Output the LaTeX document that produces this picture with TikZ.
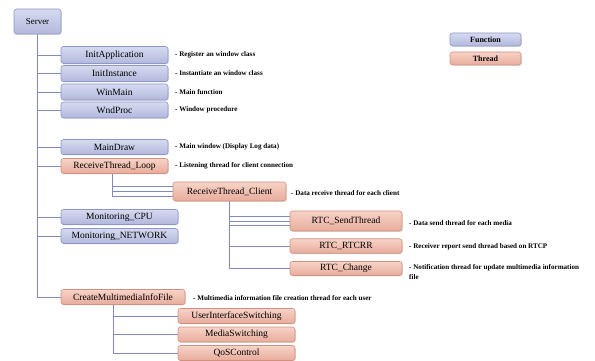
\documentclass[tikz,border=0pt]{standalone}
\usepackage{fontspec}
\setmainfont{Liberation Serif}
\usetikzlibrary{shadows,backgrounds}
\definecolor{funtop}{HTML}{D6DAF0}
\definecolor{funbot}{HTML}{B2B8DC}
\definecolor{fundraw}{HTML}{8E97C6}
\definecolor{thrtop}{HTML}{F7D3C8}
\definecolor{thrbot}{HTML}{E8AC9B}
\definecolor{thrdraw}{HTML}{D2907E}
\definecolor{wire}{HTML}{7E8AC0}
\tikzset{
  box/.style={rounded corners=2.5pt, inner sep=0pt, font=\fontsize{9.5}{10}\selectfont,
    drop shadow={opacity=0.25, shadow xshift=0.8pt, shadow yshift=-0.8pt}, line width=0.6pt},
  fun/.style={box, draw=fundraw, top color=funtop, bottom color=funbot},
  thr/.style={box, draw=thrdraw, top color=thrtop, bottom color=thrbot},
  note/.style={anchor=west, inner sep=0pt, font=\fontsize{7.1}{9.5}\selectfont\bfseries},
  link/.style={draw=wire, line width=0.8pt},
}
\begin{document}
\begin{tikzpicture}[x=1pt, y=-1pt]
\useasboundingbox (0,0) rectangle (595,361);

% legend
\node[fun, minimum width=71pt, minimum height=13pt, font=\fontsize{8}{9}\selectfont\bfseries] (lfun) at (485.5,39.5) {Function};
\node[thr, minimum width=71pt, minimum height=13pt, font=\fontsize{8}{9}\selectfont\bfseries] (lthr) at (485.5,58.5) {Thread};

% tree nodes
\node[fun, minimum width=47pt, minimum height=25pt, font=\fontsize{9}{10}\selectfont] (server) at (37.5,21.5) {Server};
\node[fun, minimum width=107pt, minimum height=17pt] (ia) at (114.5,55) {InitApplication};
\node[fun, minimum width=107pt, minimum height=16pt] (ii) at (114.5,73.5) {InitInstance};
\node[fun, minimum width=107pt, minimum height=16pt] (wm) at (114.5,92) {WinMain};
\node[fun, minimum width=107pt, minimum height=16pt] (wp) at (114.5,110) {WndProc};
\node[fun, minimum width=107pt, minimum height=15pt] (md) at (114.5,147) {MainDraw};
\node[thr, minimum width=107pt, minimum height=15pt] (rtl) at (114.5,166) {ReceiveThread\_Loop};
\node[thr, minimum width=113pt, minimum height=19pt] (rtc) at (229.5,191.5) {ReceiveThread\_Client};
\node[fun, minimum width=117pt, minimum height=15pt] (mcpu) at (119.5,217) {Monitoring\_CPU};
\node[fun, minimum width=117pt, minimum height=15pt] (mnet) at (119.5,236) {Monitoring\_NETWORK};
\node[thr, minimum width=112pt, minimum height=20pt] (rsend) at (346,221) {RTC\_SendThread};
\node[thr, minimum width=112pt, minimum height=14.5pt] (rrr) at (346,246) {RTC\_RTCRR};
\node[thr, minimum width=112pt, minimum height=14pt] (rch) at (346,268.5) {RTC\_Change};
\node[thr, minimum width=124pt, minimum height=15pt] (cmif) at (123,297) {CreateMultimediaInfoFile};
\node[thr, minimum width=117pt, minimum height=15pt] (uis) at (236.5,316) {UserInterfaceSwitching};
\node[thr, minimum width=117pt, minimum height=15pt] (ms) at (236.5,334.5) {MediaSwitching};
\node[thr, minimum width=117pt, minimum height=15pt] (qos) at (236.5,353) {QoSControl};

% descriptions
\node[note] (nia) at (175,55) {- Register an window class};
\node[note] (nii) at (175,73.5) {- Instantiate an window class};
\node[note] (nwm) at (175,92) {- Main function};
\node[note] (nwp) at (175,110) {- Window procedure};
\node[note] (nmd) at (175,147) {- Main window (Display Log data)};
\node[note] (nrtl) at (175,166) {- Listening thread for client connection};
\node[note] (nrtc) at (291,193) {- Data receive thread for each client};
\node[note] (nsend) at (409,223) {- Data send thread for each media};
\node[note] (nrr) at (409,247) {- Receiver report send thread based on RTCP};
\node[note, align=left] (nch) at (409,272) {- Notification thread for update multimedia information\\file};
\node[note] (ncmif) at (193,298) {- Multimedia information file creation thread for each user};

% attachment points for the parallel links
\coordinate (rtlb) at ([xshift=-2pt]rtl.south);
\coordinate (rtcA) at ([yshift=5pt]rtc.west);
\coordinate (rtcC) at ([yshift=-5pt]rtc.west);
\coordinate (sendA) at ([yshift=5pt]rsend.west);
\coordinate (sendC) at ([yshift=-4pt]rsend.west);
\coordinate (cmifb) at ([xshift=-10pt]cmif.south);

\begin{scope}[on background layer]
% main trunk
\draw[link] (server.south) -- (server.south |- cmif.west) -- (cmif.west);
\foreach \n in {ia,ii,wm,wp,md,rtl,mcpu,mnet}
  \draw[link] (server.south |- \n.west) -- (\n.west);

% listening thread to client threads
\draw[link] (rtlb) -- (rtlb |- rtcC) -- (rtcC);
\draw[link] (rtlb |- rtc.west) -- (rtc.west);
\draw[link] (rtlb |- rtcA) -- (rtcA);

% client thread to RTC threads
\draw[link] (rtc.south) -- (rtc.south |- rch.west) -- (rch.west);
\draw[link] (rtc.south |- sendA) -- (sendA);
\draw[link] (rtc.south |- rsend.west) -- (rsend.west);
\draw[link] (rtc.south |- sendC) -- (sendC);
\draw[link] (rtc.south |- rrr.west) -- (rrr.west);

% info file thread to its workers
\draw[link] (cmifb) -- (cmifb |- qos.west) -- (qos.west);
\draw[link] (cmifb |- uis.west) -- (uis.west);
\draw[link] (cmifb |- ms.west) -- (ms.west);
\end{scope}
\end{tikzpicture}
\end{document}
